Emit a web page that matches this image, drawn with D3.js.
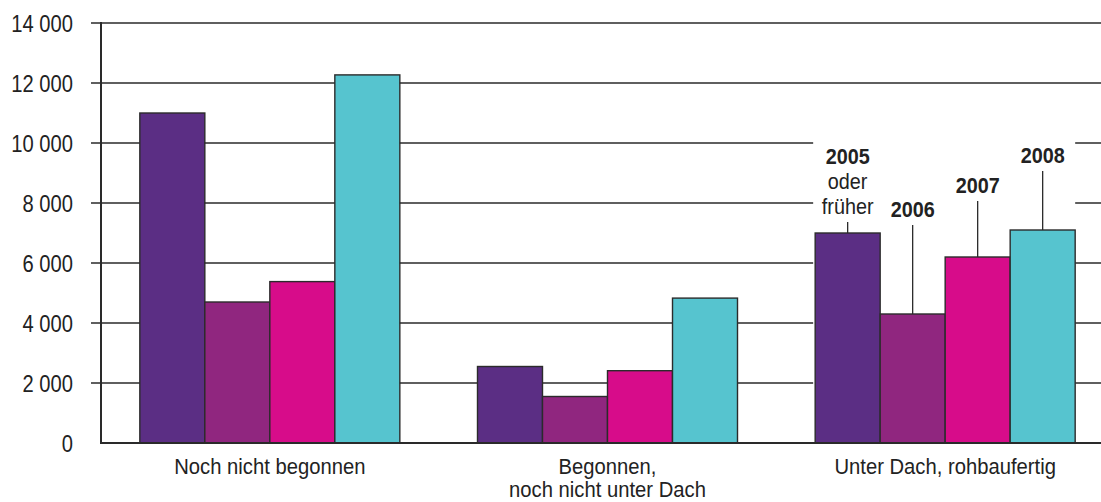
<!DOCTYPE html>
<html>
<head>
<meta charset="utf-8">
<script src="https://cdn.jsdelivr.net/npm/d3@7"></script>
<style>
  body { margin: 0; background: #fff; }
  svg { display: block; font-family: "Liberation Sans", Arial, sans-serif; }
</style>
</head>
<body>
<div id="chart"></div>
<script>
(() => {
    // Chart data
    const categories = ["Noch nicht begonnen", "Begonnen,\nnoch nicht unter Dach", "Unter Dach, rohbaufertig"];
    const years = ["2005", "2006", "2007", "2008"];
    const values2005 = [11000, 2550, 7000];
    const values2006 = [4700, 1550, 4300];
    const values2007 = [5380, 2410, 6200];
    const values2008 = [12270, 4830, 7100];
    const yTicks = [0, 2000, 4000, 6000, 8000, 10000, 12000, 14000];
    const colors = ["#5b2e84", "#90267f", "#d70c8a", "#56c4cf"];
    // year labels sit above the last group only
    const yearLabels = [["2005", "oder", "früher"], ["2006"], ["2007"], ["2008"]];
    const labelBaselines = [164, 217, 193, 163];

    const seriesValues = [values2005, values2006, values2007, values2008];

    const width = 1101, height = 502;
    const margin = { top: 23, right: 0, bottom: 59, left: 101 };
    const innerH = height - margin.top - margin.bottom;

    // the original uses a condensed face, so squeeze the text horizontally
    const condensed = (sel, x, yPos, sx) =>
        sel.attr("transform", `translate(${x},${yPos}) scale(${sx},1)`);

    const svg = d3.select("#chart").append("svg")
        .attr("width", width)
        .attr("height", height);

    const x0 = d3.scaleBand()
        .domain(d3.range(categories.length))
        .range([margin.left, margin.left + 1013])
        .paddingInner(0.23)
        .paddingOuter(0.115);

    const x1 = d3.scaleBand()
        .domain(years)
        .range([0, x0.bandwidth()]);

    const y = d3.scaleLinear()
        .domain([0, 14000])
        .range([margin.top + innerH, margin.top]);

    // grid lines + ticks
    svg.append("g")
        .selectAll("line")
        .data(yTicks.filter(d => d > 0))
        .enter()
        .append("line")
        .attr("x1", margin.left - 10)
        .attr("x2", width)
        .attr("y1", d => y(d))
        .attr("y2", d => y(d))
        .attr("stroke", "#2a2a2a")
        .attr("stroke-width", 1.4);

    // tick labels
    const fmt = d => d3.format(",")(d).replace(/,/g, " ");
    svg.append("g")
        .selectAll("text")
        .data(yTicks)
        .enter()
        .append("text")
        .each(function (d) { condensed(d3.select(this), 73, y(d), 0.84); })
        .attr("dy", "0.36em")
        .attr("text-anchor", "end")
        .attr("fill", "#222")
        .style("font-size", "24px")
        .text(fmt);

    // white box behind the year labels of the last group
    const lastX = x0(categories.length - 1);
    svg.append("rect")
        .attr("x", lastX - 2)
        .attr("y", 136)
        .attr("width", x0.bandwidth() + 2)
        .attr("height", y(0) - 136)
        .attr("fill", "#fff");

    // bars
    const groups = svg.append("g")
        .selectAll("g")
        .data(categories)
        .enter()
        .append("g")
        .attr("transform", (d, i) => `translate(${x0(i)},0)`);

    groups.selectAll("rect")
        .data((d, i) => years.map((yr, j) => ({ yr, j, v: seriesValues[j][i] })))
        .enter()
        .append("rect")
        .attr("x", d => x1(d.yr))
        .attr("y", d => y(d.v))
        .attr("width", x1.bandwidth())
        .attr("height", d => y(0) - y(d.v))
        .attr("fill", d => colors[d.j])
        .attr("stroke", "#2b2b2b")
        .attr("stroke-width", 1.4);

    // axis lines
    svg.append("line")
        .attr("x1", margin.left).attr("x2", margin.left)
        .attr("y1", y(14000) - 1).attr("y2", y(0))
        .attr("stroke", "#2a2a2a").attr("stroke-width", 2);

    svg.append("line")
        .attr("x1", margin.left - 1).attr("x2", width)
        .attr("y1", y(0)).attr("y2", y(0))
        .attr("stroke", "#2a2a2a").attr("stroke-width", 2.2);

    // category labels
    svg.append("g")
        .selectAll("text")
        .data(categories)
        .enter()
        .append("text")
        .each(function (d, i) {
            const t = d3.select(this);
            condensed(t, x0(i) + x0.bandwidth() / 2, 474, 0.92);
            d.split("\n").forEach((line, k) => {
                t.append("tspan")
                    .attr("x", 0)
                    .attr("dy", k === 0 ? 0 : 23)
                    .text(line);
            });
        })
        .attr("text-anchor", "middle")
        .attr("fill", "#222")
        .style("font-size", "22px");

    // year labels with leader lines
    const lastIdx = categories.length - 1;
    years.forEach((yr, j) => {
        const cx = lastX + x1(yr) + x1.bandwidth() / 2;
        const lines = yearLabels[j];
        const base = labelBaselines[j];
        const t = svg.append("text")
            .attr("text-anchor", "middle")
            .attr("fill", "#222")
            .style("font-size", "22px");
        condensed(t, cx, base, 0.9);
        lines.forEach((line, k) => {
            t.append("tspan")
                .attr("x", 0)
                .attr("dy", k === 0 ? 0 : 25)
                .style("font-weight", k === 0 ? "bold" : "normal")
                .text(line);
        });
        const textBottom = base + (lines.length - 1) * 25 + 8;
        svg.append("line")
            .attr("x1", cx).attr("x2", cx)
            .attr("y1", textBottom)
            .attr("y2", y(seriesValues[j][lastIdx]))
            .attr("stroke", "#2a2a2a")
            .attr("stroke-width", 1.3);
    });
})();
</script>
</body>
</html>
